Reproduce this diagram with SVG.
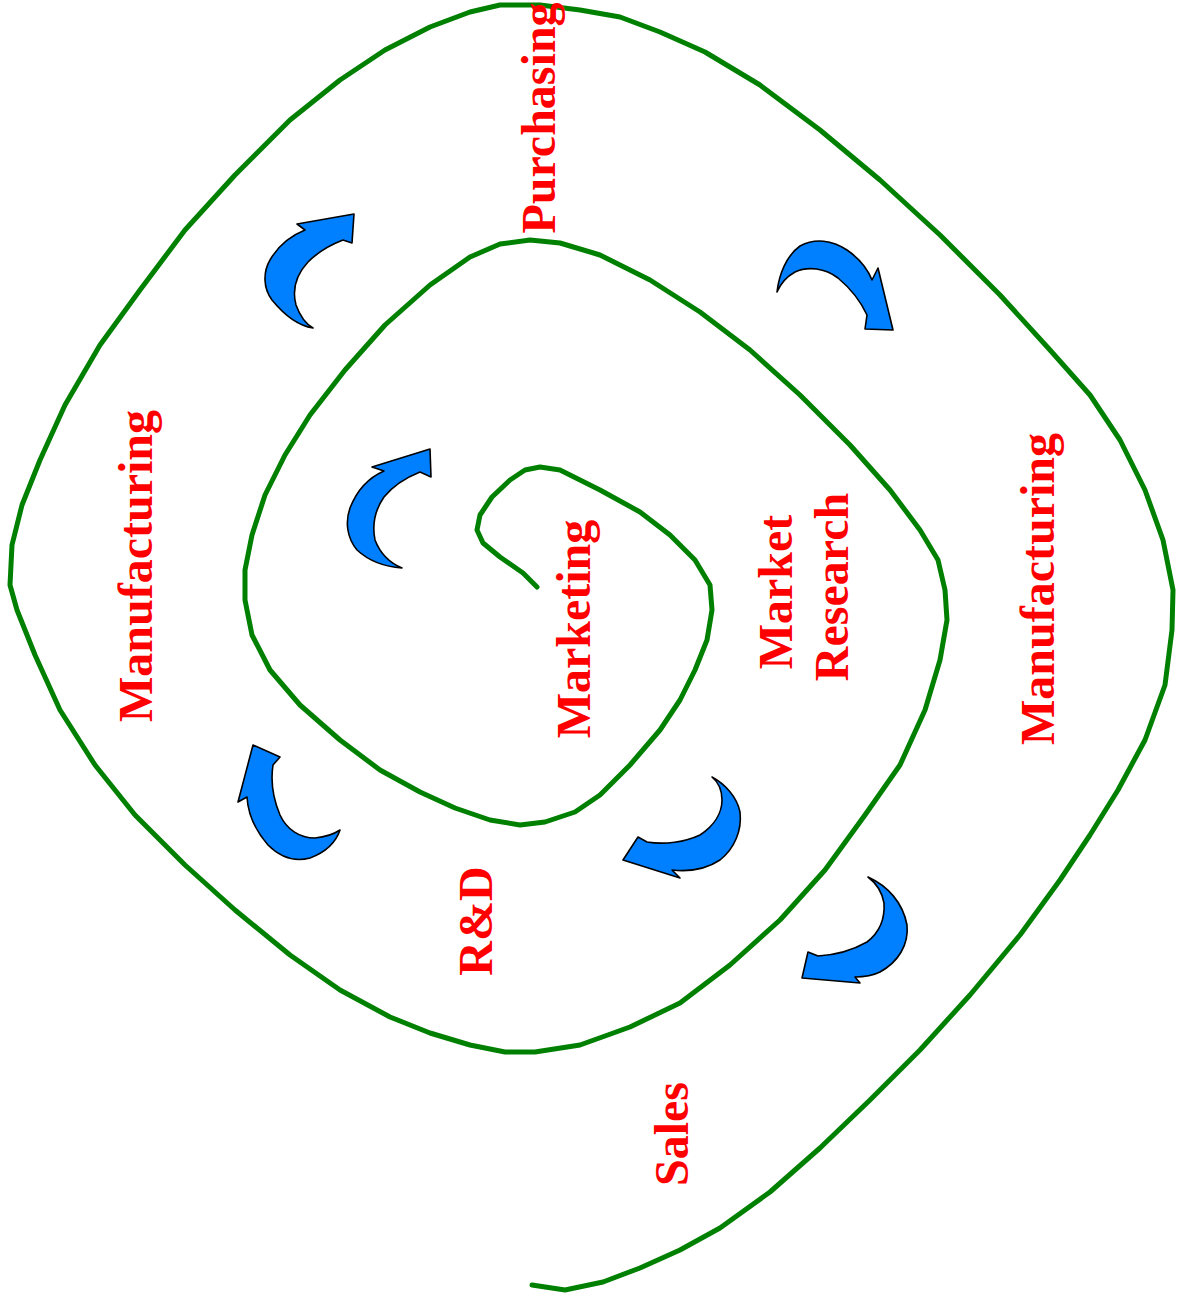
<svg xmlns="http://www.w3.org/2000/svg" width="1185" height="1303" viewBox="0 0 1185 1303">
<style>
.lbl{font-family:"Liberation Serif","Times New Roman",serif;font-weight:bold;font-size:48px;fill:#ff0000;text-anchor:middle}
.arr{fill:#0080ff;stroke:#000;stroke-width:1.6;stroke-linejoin:round}
.spiral{fill:none;stroke:#008000;stroke-width:5;stroke-linejoin:round;stroke-linecap:round}
</style>
<rect width="1185" height="1303" fill="#fff"/>
<g id="connectors">
<path class="spiral" d="M537,587 L523,573 L500,557 L483,543 L477,530 L480,515 L492,497 L510,480 L525,470 L540,467 L560,470 L600,490 L640,512 L670,535 L695,560 L710,585 L712,610 L707,640 L695,670 L680,700 L660,730 L630,765 L600,795 L575,812 L545,822 L520,825 L490,820 L455,808 L420,792 L380,770 L340,740 L300,705 L270,670 L252,635 L245,600 L245,570 L252,535 L265,495 L285,455 L310,415 L345,370 L385,325 L430,285 L470,257 L500,244 L530,240 L560,243 L600,255 L650,280 L700,312 L750,350 L800,395 L850,445 L890,490 L920,530 L938,560 L945,590 L947,620 L940,660 L925,710 L900,765 L865,815 L825,870 L780,920 L730,965 L680,1003 L630,1027 L580,1045 L535,1052 L505,1052 L470,1045 L430,1033 L390,1017 L340,990 L290,955 L235,910 L185,865 L135,815 L95,765 L60,710 L35,655 L17,610 L10,585 L12,545 L22,505 L40,460 L65,405 L100,345 L140,290 L185,230 L235,175 L290,120 L340,80 L385,50 L430,27 L470,12 L500,5 L540,5 L580,10 L620,17 L660,32 L705,52 L760,85 L820,130 L880,180 L940,235 L1000,295 L1050,350 L1090,395 L1120,440 L1145,490 L1163,540 L1173,590 L1172,630 L1165,685 L1145,740 L1118,790 L1090,835 L1060,880 L1020,935 L970,995 L920,1050 L870,1100 L820,1148 L770,1192 L720,1228 L680,1250 L640,1268 L603,1282 L565,1290 L532,1285"/>
</g>
<g id="arrow1"><path class="arr" d="M313,328 C300,326 285,316 272,300 C263,288 263,272 270,260 C278,246 290,236 305,230 L297,224 L354,214 L352,243 L343,240 C330,245 318,252 308,262 C296,275 292,290 296,305 C300,316 306,324 313,328 Z"/></g>
<g id="arrow2"><path class="arr" d="M777,292 C779,275 786,256 800,246 C815,238 832,240 847,250 C860,259 868,270 872,280 L878,268 L893,330 L865,329 L867,315 C860,300 850,288 838,278 C825,268 808,266 795,272 C786,277 780,285 777,292 Z"/></g>
<g id="arrow3"><path class="arr" d="M402,568 C388,567 370,562 357,550 C347,538 345,522 350,508 C357,490 368,478 384,471 L372,467 L430,449 L431,477 L420,472 C405,478 393,486 384,497 C375,510 372,525 375,540 C380,553 390,563 402,568 Z"/></g>
<g id="arrow4"><path class="arr" d="M253,745 L280,757 L273,765 C271,778 272,796 280,815 C287,830 300,838 315,838 C326,837 334,834 340,830 C336,842 326,852 310,858 C295,862 280,857 268,845 C255,830 248,815 247,797 L238,802 Z"/></g>
<g id="arrow5"><path class="arr" d="M712,777 C725,784 737,797 740,812 C742,830 735,848 720,860 C705,870 690,872 672,870 L680,878 L623,860 L638,837 L647,842 C665,845 685,842 700,835 C715,825 722,812 722,800 C722,790 718,782 712,777 Z"/></g>
<g id="arrow6"><path class="arr" d="M868,877 C888,886 903,903 907,925 C909,945 898,962 880,972 C872,976 864,977 855,977 L860,983 L802,978 L808,952 L818,956 C835,955 853,950 867,942 C880,932 885,918 884,903 C882,892 876,883 868,877 Z"/></g>
<g id="purchasing"><text class="lbl" transform="translate(555,118) rotate(-90)">Purchasing</text></g>
<g id="manufacturing-left"><text class="lbl" transform="translate(152,566) rotate(-90)">Manufacturing</text></g>
<g id="manufacturing-right"><text class="lbl" transform="translate(1054,589) rotate(-90)">Manufacturing</text></g>
<g id="marketing"><text class="lbl" transform="translate(590,629) rotate(-90)">Marketing</text></g>
<g id="market-research"><text class="lbl" transform="translate(792,592) rotate(-90)">Market</text><text class="lbl" transform="translate(848,587) rotate(-90)">Research</text></g>
<g id="rd"><text class="lbl" transform="translate(492,921) rotate(-90)">R&amp;D</text></g>
<g id="sales"><text class="lbl" transform="translate(688,1134) rotate(-90)">Sales</text></g>
</svg>
